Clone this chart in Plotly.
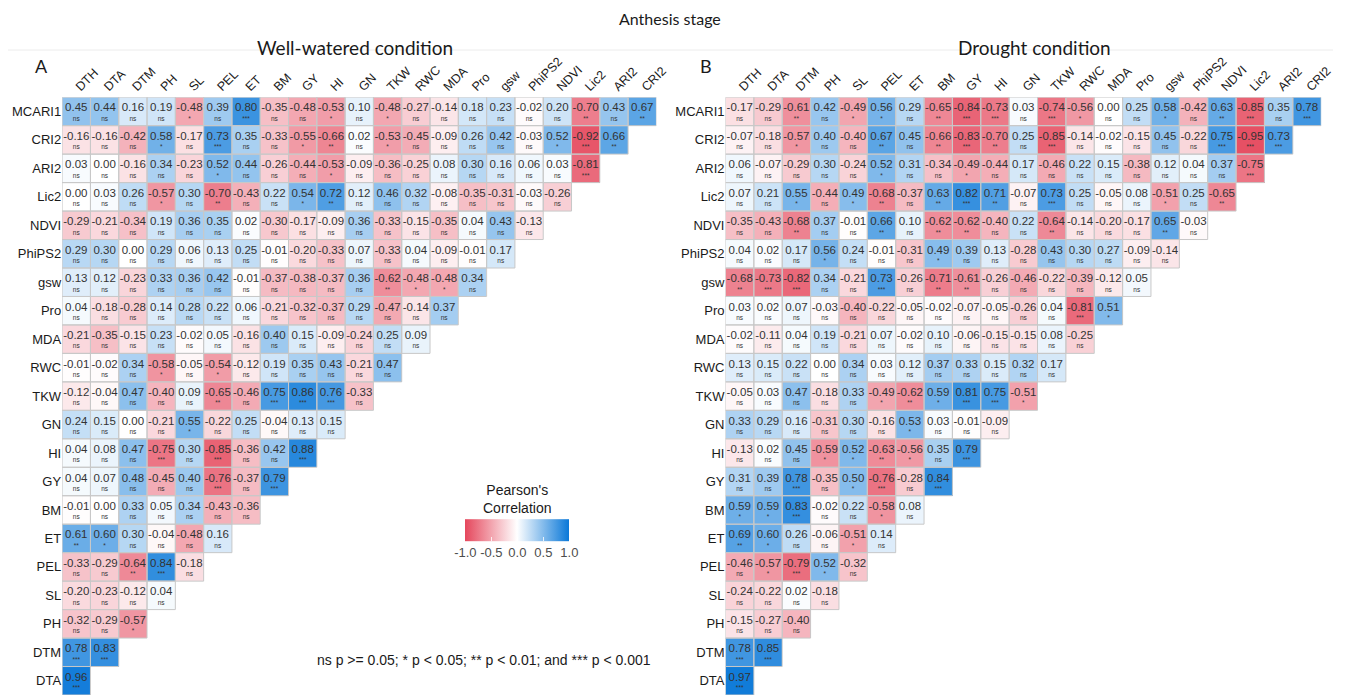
import plotly.graph_objects as go

col_vars = ["DTH", "DTA", "DTM", "PH", "SL", "PEL", "ET", "BM", "GY", "HI", "GN",
            "TKW", "RWC", "MDA", "Pro", "gsw", "PhiPS2", "NDVI", "Lic2", "ARI2", "CRI2"]
row_vars = ["MCARI1", "CRI2", "ARI2", "Lic2", "NDVI", "PhiPS2", "gsw", "Pro", "MDA", "RWC",
            "TKW", "GN", "HI", "GY", "BM", "ET", "PEL", "SL", "PH", "DTM", "DTA"]

# Well-watered condition: correlation values (row-wise, lower triangle)
ww_r = [
    [0.45, 0.44, 0.16, 0.19, -0.48, 0.39, 0.80, -0.35, -0.48, -0.53, 0.10, -0.48, -0.27, -0.14, 0.18, 0.23, -0.02, 0.20, -0.70, 0.43, 0.67],
    [-0.16, -0.16, -0.42, 0.58, -0.17, 0.73, 0.35, -0.33, -0.55, -0.66, 0.02, -0.53, -0.45, -0.09, 0.26, 0.42, -0.03, 0.52, -0.92, 0.66],
    [0.03, 0.00, -0.16, 0.34, -0.23, 0.52, 0.44, -0.26, -0.44, -0.53, -0.09, -0.36, -0.25, 0.08, 0.30, 0.16, 0.06, 0.03, -0.81],
    [0.00, 0.03, 0.26, -0.57, 0.30, -0.70, -0.43, 0.22, 0.54, 0.72, 0.12, 0.46, 0.32, -0.08, -0.35, -0.31, -0.03, -0.26],
    [-0.29, -0.21, -0.34, 0.19, 0.36, 0.35, 0.02, -0.30, -0.17, -0.09, 0.36, -0.33, -0.15, -0.35, 0.04, 0.43, -0.13],
    [0.29, 0.30, 0.00, 0.29, 0.06, 0.13, 0.25, -0.01, -0.20, -0.33, 0.07, -0.33, 0.04, -0.09, -0.01, 0.17],
    [0.13, 0.12, -0.23, 0.33, 0.36, 0.42, -0.01, -0.37, -0.38, -0.37, 0.36, -0.62, -0.48, -0.48, 0.34],
    [0.04, -0.18, -0.28, 0.14, 0.28, 0.22, 0.06, -0.21, -0.32, -0.37, 0.29, -0.47, -0.14, 0.37],
    [-0.21, -0.35, -0.15, 0.23, -0.02, 0.05, -0.16, 0.40, 0.15, -0.09, -0.24, 0.25, 0.09],
    [-0.01, -0.02, 0.34, -0.58, -0.05, -0.54, -0.12, 0.19, 0.35, 0.43, -0.21, 0.47],
    [-0.12, -0.04, 0.47, -0.40, 0.09, -0.65, -0.46, 0.75, 0.86, 0.76, -0.33],
    [0.24, 0.15, 0.00, -0.21, 0.55, -0.22, 0.25, -0.04, 0.13, 0.15],
    [0.04, 0.08, 0.47, -0.75, 0.30, -0.85, -0.36, 0.42, 0.88],
    [0.04, 0.07, 0.48, -0.45, 0.40, -0.76, -0.37, 0.79],
    [-0.01, 0.00, 0.33, 0.05, 0.34, -0.43, -0.36],
    [0.61, 0.60, 0.30, -0.04, -0.48, 0.16],
    [-0.33, -0.29, -0.64, 0.84, -0.18],
    [-0.20, -0.23, -0.12, 0.04],
    [-0.32, -0.29, -0.57],
    [0.78, 0.83],
    [0.96],
]
# significance level: 0 = ns, 1 = *, 2 = **, 3 = ***
ww_sig = [
    [0, 0, 0, 0, 1, 0, 3, 0, 0, 1, 0, 1, 0, 0, 0, 0, 0, 0, 2, 0, 2],
    [0, 0, 0, 1, 0, 3, 0, 0, 1, 2, 0, 1, 0, 0, 0, 0, 0, 1, 3, 2],
    [0, 0, 0, 0, 0, 1, 0, 0, 0, 1, 0, 0, 0, 0, 0, 0, 0, 0, 3],
    [0, 0, 0, 1, 0, 2, 0, 0, 1, 2, 0, 0, 0, 0, 0, 0, 0, 0],
    [0, 0, 0, 0, 0, 0, 0, 0, 0, 0, 0, 0, 0, 0, 0, 0, 0],
    [0, 0, 0, 0, 0, 0, 0, 0, 0, 0, 0, 0, 0, 0, 0, 0],
    [0, 0, 0, 0, 0, 0, 0, 0, 0, 0, 0, 2, 1, 1, 0],
    [0, 0, 0, 0, 0, 0, 0, 0, 0, 0, 0, 0, 0, 0],
    [0, 0, 0, 0, 0, 0, 0, 0, 0, 0, 0, 0, 0],
    [0, 0, 0, 1, 0, 1, 0, 0, 0, 0, 0, 0],
    [0, 0, 0, 0, 0, 2, 0, 3, 3, 3, 0],
    [0, 0, 0, 0, 1, 0, 0, 0, 0, 0],
    [0, 0, 0, 3, 0, 3, 0, 0, 3],
    [0, 0, 0, 0, 0, 3, 0, 3],
    [0, 0, 0, 0, 0, 0, 0],
    [2, 1, 0, 0, 0, 0],
    [0, 0, 2, 3, 0],
    [0, 0, 0, 0],
    [0, 0, 1],
    [3, 3],
    [3],
]

# Drought condition
dr_r = [
    [-0.17, -0.29, -0.61, 0.42, -0.49, 0.56, 0.29, -0.65, -0.84, -0.73, 0.03, -0.74, -0.56, 0.00, 0.25, 0.58, -0.42, 0.63, -0.85, 0.35, 0.78],
    [-0.07, -0.18, -0.57, 0.40, -0.40, 0.67, 0.45, -0.66, -0.83, -0.70, 0.25, -0.85, -0.14, -0.02, -0.15, 0.45, -0.22, 0.75, -0.95, 0.73],
    [0.06, -0.07, -0.29, 0.30, -0.24, 0.52, 0.31, -0.34, -0.49, -0.44, 0.17, -0.46, 0.22, 0.15, -0.38, 0.12, 0.04, 0.37, -0.75],
    [0.07, 0.21, 0.55, -0.44, 0.49, -0.68, -0.37, 0.63, 0.82, 0.71, -0.07, 0.73, 0.25, -0.05, 0.08, -0.51, 0.25, -0.65],
    [-0.35, -0.43, -0.68, 0.37, -0.01, 0.66, 0.10, -0.62, -0.62, -0.40, 0.22, -0.64, -0.14, -0.20, -0.17, 0.65, -0.03],
    [0.04, 0.02, 0.17, 0.56, 0.24, -0.01, -0.31, 0.49, 0.39, 0.13, -0.28, 0.43, 0.30, 0.27, -0.09, -0.14],
    [-0.68, -0.73, -0.82, 0.34, -0.21, 0.73, -0.26, -0.71, -0.61, -0.26, -0.46, -0.22, -0.39, -0.12, 0.05],
    [0.03, 0.02, 0.07, -0.03, -0.40, -0.22, -0.05, -0.02, -0.07, -0.05, -0.26, 0.04, -0.81, 0.51],
    [-0.02, -0.11, 0.04, 0.19, -0.21, 0.07, -0.02, 0.10, -0.06, -0.15, -0.15, 0.08, -0.25],
    [0.13, 0.15, 0.22, 0.00, 0.34, 0.03, 0.12, 0.37, 0.33, 0.15, 0.32, 0.17],
    [-0.05, 0.03, 0.47, -0.18, 0.33, -0.49, -0.62, 0.59, 0.81, 0.75, -0.51],
    [0.33, 0.29, 0.16, -0.31, 0.30, -0.16, 0.53, 0.03, -0.01, -0.09],
    [-0.13, 0.02, 0.45, -0.59, 0.52, -0.63, -0.56, 0.35, 0.79],
    [0.31, 0.39, 0.78, -0.35, 0.50, -0.76, -0.28, 0.84],
    [0.59, 0.59, 0.83, -0.02, 0.22, -0.58, 0.08],
    [0.69, 0.60, 0.26, -0.06, -0.51, 0.14],
    [-0.46, -0.57, -0.79, 0.52, -0.32],
    [-0.24, -0.22, 0.02, -0.18],
    [-0.15, -0.27, -0.40],
    [0.78, 0.85],
    [0.97],
]
dr_sig = [
    [0, 0, 2, 0, 1, 1, 0, 2, 3, 3, 0, 3, 1, 0, 0, 1, 0, 2, 3, 0, 3],
    [0, 0, 1, 0, 0, 2, 0, 2, 3, 2, 0, 3, 0, 0, 0, 0, 0, 3, 3, 3],
    [0, 0, 0, 0, 0, 1, 0, 0, 1, 0, 0, 0, 0, 0, 0, 0, 0, 0, 3],
    [0, 0, 1, 0, 1, 2, 0, 2, 3, 2, 0, 3, 0, 0, 0, 1, 0, 2],
    [0, 0, 2, 0, 0, 2, 0, 2, 2, 0, 0, 2, 0, 0, 0, 2, 0],
    [0, 0, 0, 1, 0, 0, 0, 1, 0, 0, 0, 0, 0, 0, 0, 0],
    [2, 3, 3, 0, 0, 3, 0, 2, 2, 0, 0, 0, 0, 0, 0],
    [0, 0, 0, 0, 0, 0, 0, 0, 0, 0, 0, 0, 3, 1],
    [0, 0, 0, 0, 0, 0, 0, 0, 0, 0, 0, 0, 0],
    [0, 0, 0, 0, 0, 0, 0, 0, 0, 0, 0, 0],
    [0, 0, 0, 0, 0, 1, 2, 1, 3, 3, 1],
    [0, 0, 0, 0, 0, 0, 1, 0, 0, 0],
    [0, 0, 0, 1, 1, 2, 1, 0, 3],
    [0, 0, 3, 0, 1, 3, 0, 3],
    [1, 1, 3, 0, 0, 1, 0],
    [2, 1, 0, 0, 1, 0],
    [0, 1, 3, 1, 0],
    [0, 0, 0, 0],
    [0, 0, 0],
    [3, 3],
    [3],
]

sig_labels = ["ns", "*", "**", "***"]
colorscale = [[0.0, "#E5475C"], [0.5, "#FFFFFF"], [1.0, "#0A78D8"]]

W, H = 1351, 695
grid_top, grid_bottom = 97.2, 695.0
panels = [
    dict(r=ww_r, s=ww_sig, x0=62.7, x1=662.3, xa="x", ya="y", scale=True),
    dict(r=dr_r, s=dr_sig, x0=732.0, x1=1333.0, xa="x2", ya="y2", scale=False),
]

fig = go.Figure()
shapes = []
n = len(col_vars)
for p in panels:
    z = [[None] * n for _ in range(n)]
    tx, ty, tv, sx, sy, sv = [], [], [], [], [], []
    for i, row in enumerate(p["r"]):
        for j, v in enumerate(row):
            z[i][j] = v
            tx.append(j); ty.append(i - 0.1); tv.append(f"{v:.2f}")
            sx.append(j); sy.append(i + 0.27); sv.append(sig_labels[p["s"][i][j]])
            shapes.append(dict(type="rect", xref=p["xa"], yref=p["ya"],
                               x0=j - 0.5, x1=j + 0.5, y0=i - 0.5, y1=i + 0.5,
                               line=dict(color="#C8C8C8", width=1), layer="above"))
    fig.add_trace(go.Heatmap(
        z=z, x=list(range(n)), y=list(range(n)), zmin=-1, zmax=1,
        colorscale=colorscale, showscale=p["scale"], hoverinfo="skip",
        xaxis=p["xa"], yaxis=p["ya"],
        colorbar=dict(orientation="h", x=522 / W, xanchor="center",
                      y=1 - 542 / H, yanchor="middle",
                      len=124, lenmode="pixels", thickness=21.5, thicknessmode="pixels",
                      outlinewidth=0, tickvals=[-1, -0.5, 0, 0.5, 1],
                      ticktext=["-1.0", "-0.5", "0.0", "0.5", "1.0"],
                      ticks="inside", ticklen=4, tickcolor="rgba(255,255,255,0.8)",
                      tickfont=dict(family="Liberation Sans", size=13, color="#4D4D4D"),
                      title=dict(text="")),
    ))
    fig.add_trace(go.Scatter(x=tx, y=ty, text=tv, mode="text", xaxis=p["xa"], yaxis=p["ya"],
                             textfont=dict(family="Liberation Sans", size=11.5, color="#333333"),
                             hoverinfo="skip", showlegend=False))
    fig.add_trace(go.Scatter(x=sx, y=sy, text=sv, mode="text", xaxis=p["xa"], yaxis=p["ya"],
                             textfont=dict(family="Liberation Sans", size=6.5, color="#333333"),
                             hoverinfo="skip", showlegend=False))

axis_common_x = dict(range=[-0.5, n - 0.5], side="top", tickvals=list(range(n)), ticktext=col_vars,
                     tickangle=-45, showgrid=False, zeroline=False, showline=False, ticks="",
                     tickfont=dict(family="Liberation Sans", size=12.5, color="#1A1A1A"))
axis_common_y = dict(range=[n - 0.5, -0.5], tickvals=list(range(n)), ticktext=row_vars,
                     showgrid=False, zeroline=False, showline=False, ticks="",
                     domain=[0, 1 - grid_top / H],
                     tickfont=dict(family="Liberation Sans", size=13, color="#1A1A1A"))

fig.update_layout(
    width=W, height=H, margin=dict(l=0, r=0, t=0, b=0),
    paper_bgcolor="white", plot_bgcolor="white", showlegend=False,
    xaxis=dict(axis_common_x, domain=[panels[0]["x0"] / W, panels[0]["x1"] / W], anchor="y"),
    yaxis=dict(axis_common_y, anchor="x"),
    xaxis2=dict(axis_common_x, domain=[panels[1]["x0"] / W, panels[1]["x1"] / W], anchor="y2"),
    yaxis2=dict(axis_common_y, anchor="x2"),
    shapes=shapes + [dict(type="line", xref="paper", yref="paper", x0=8 / W, x1=1345 / W,
                          y0=1 - 50 / H, y1=1 - 50 / H, line=dict(color="#ECECEC", width=1),
                          layer="below")],
)

ann = [
    dict(text="Anthesis stage", x=676 / W, y=1 - 18 / H, font=dict(family="Lato", size=16, color="#1A1A1A")),
    dict(text="Well-watered condition", x=358 / W, y=1 - 48 / H, font=dict(family="Lato", size=19, color="#1A1A1A")),
    dict(text="Drought condition", x=1044 / W, y=1 - 48 / H, font=dict(family="Lato", size=19, color="#1A1A1A")),
    dict(text="A", x=42 / W, y=1 - 66 / H, font=dict(family="Lato", size=18, color="#1A1A1A")),
    dict(text="B", x=712 / W, y=1 - 66 / H, font=dict(family="Lato", size=18, color="#1A1A1A")),
    dict(text="Pearson's<br>Correlation", x=522 / W, y=1 - 499 / H,
         font=dict(family="Liberation Sans", size=14, color="#1A1A1A")),
    dict(text="ns p >= 0.05; * p < 0.05; ** p < 0.01; and *** p < 0.001", x=659 / W, y=1 - 660 / H,
         xanchor="right", font=dict(family="Liberation Sans", size=14, color="#1A1A1A")),
]
for a in ann:
    a.setdefault("xanchor", "center")
    fig.add_annotation(xref="paper", yref="paper", yanchor="middle", showarrow=False, **a)

fig.write_html("out.html")
